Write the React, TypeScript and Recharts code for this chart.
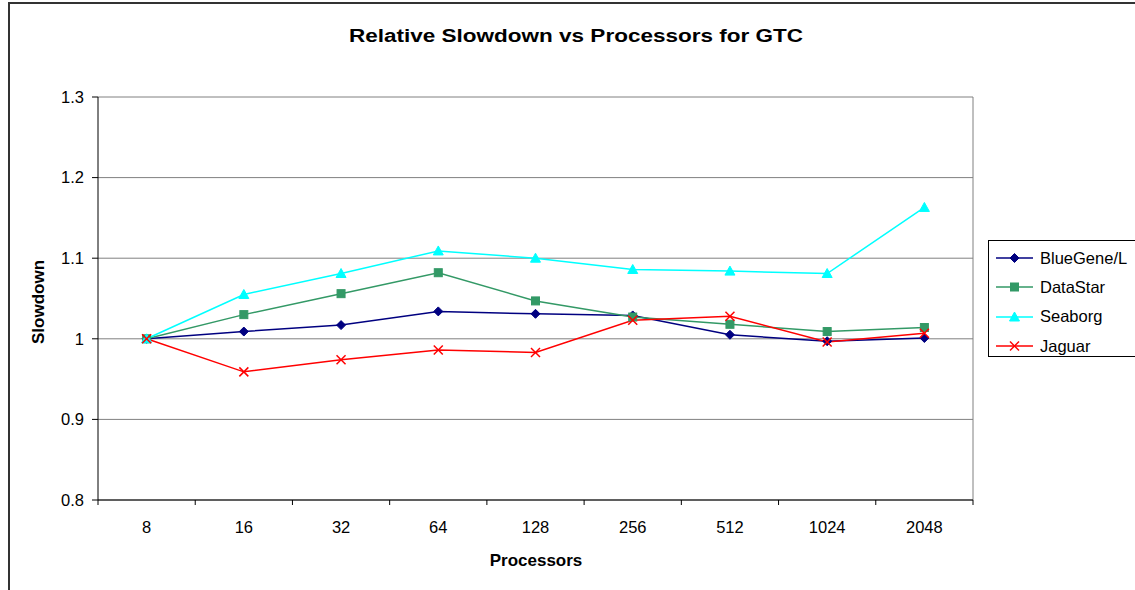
import { LineChart, Line, XAxis, YAxis, CartesianGrid } from 'recharts'

const categories = ['8', '16', '32', '64', '128', '256', '512', '1024', '2048']
const blueGene = [1.0, 1.009, 1.017, 1.034, 1.031, 1.029, 1.005, 0.997, 1.001]
const dataStar = [1.0, 1.03, 1.056, 1.082, 1.047, 1.027, 1.018, 1.009, 1.014]
const seaborg = [1.0, 1.055, 1.081, 1.109, 1.1, 1.086, 1.084, 1.081, 1.163]
const jaguar = [1.0, 0.959, 0.974, 0.986, 0.983, 1.023, 1.028, 0.996, 1.007]
const yTicks = [0.8, 0.9, 1.0, 1.1, 1.2, 1.3]

const FONT = '"Liberation Sans", Arial, sans-serif'

type Shape = 'diamond' | 'square' | 'triangle' | 'cross'

const seriesList: { key: string; name: string; color: string; shape: Shape }[] = [
  { key: 'blueGene', name: 'BlueGene/L', color: '#000080', shape: 'diamond' },
  { key: 'dataStar', name: 'DataStar', color: '#339966', shape: 'square' },
  { key: 'seaborg', name: 'Seaborg', color: '#00FFFF', shape: 'triangle' },
  { key: 'jaguar', name: 'Jaguar', color: '#FF0000', shape: 'cross' }
]

const chartData = categories.map((c, i) => ({
  name: c,
  blueGene: blueGene[i],
  dataStar: dataStar[i],
  seaborg: seaborg[i],
  jaguar: jaguar[i]
}))

function Marker({ cx, cy, shape, color }: { cx: number; cy: number; shape: Shape; color: string }) {
  if (cx == null || cy == null) return null
  if (shape === 'diamond') {
    return (
      <polygon
        points={`${cx},${cy - 4.5} ${cx + 4.5},${cy} ${cx},${cy + 4.5} ${cx - 4.5},${cy}`}
        fill={color}
        stroke={color}
      />
    )
  }
  if (shape === 'square') {
    return <rect x={cx - 4} y={cy - 4} width={8} height={8} fill={color} stroke={color} />
  }
  if (shape === 'triangle') {
    return (
      <polygon
        points={`${cx},${cy - 5} ${cx + 5},${cy + 4} ${cx - 5},${cy + 4}`}
        fill={color}
        stroke={color}
      />
    )
  }
  return (
    <g stroke={color} strokeWidth={1.5}>
      <line x1={cx - 4.5} y1={cy - 4.5} x2={cx + 4.5} y2={cy + 4.5} />
      <line x1={cx - 4.5} y1={cy + 4.5} x2={cx + 4.5} y2={cy - 4.5} />
    </g>
  )
}

const makeDot = (shape: Shape, color: string) => (props: any) => (
  <Marker key={`${shape}-${props.index}`} cx={props.cx} cy={props.cy} shape={shape} color={color} />
)

function CategoryTick(props: any) {
  const { x, y, payload, index, width, visibleTicksCount } = props
  const count = visibleTicksCount ?? categories.length
  const band = (width ?? 875) / count
  const isLast = index === count - 1
  return (
    <g>
      <line x1={x - band / 2} y1={y} x2={x - band / 2} y2={y + 5} stroke="#000" />
      {isLast && <line x1={x + band / 2} y1={y} x2={x + band / 2} y2={y + 5} stroke="#000" />}
      <text x={x} y={y + 33} textAnchor="middle" fontSize={16.5} fontFamily={FONT} fill="#000">
        {payload.value}
      </text>
    </g>
  )
}

export default function App() {
  return (
    <div
      style={{
        position: 'absolute',
        left: 0,
        top: 0,
        width: 1135,
        height: 590,
        overflow: 'hidden',
        background: '#fff',
        fontFamily: FONT
      }}
    >
      <div
        style={{
          position: 'absolute',
          left: 8,
          top: 2,
          width: 1200,
          height: 700,
          border: '2px solid #333',
          boxSizing: 'border-box'
        }}
      />
      <LineChart
        width={1135}
        height={590}
        data={chartData}
        margin={{ top: 97, right: 162, bottom: 60, left: 58 }}
        style={{ position: 'absolute', left: 0, top: 0 }}
      >
        <CartesianGrid
          stroke="#808080"
          verticalCoordinatesGenerator={({ offset }: any) => [offset.left + offset.width]}
        />
        <XAxis
          dataKey="name"
          scale="band"
          height={30}
          axisLine={{ stroke: '#000' }}
          tickLine={false}
          tickSize={0}
          tickMargin={0}
          interval={0}
          tick={<CategoryTick />}
        />
        <YAxis
          width={40}
          domain={[0.8, 1.3]}
          ticks={yTicks}
          interval={0}
          axisLine={{ stroke: '#000' }}
          tickLine={{ stroke: '#000' }}
          tickSize={6}
          tickMargin={8}
          tickFormatter={(v: number) => String(v)}
          tick={{ fontSize: 16.5, fill: '#000', fontFamily: FONT }}
        />
        {seriesList.map((s) => (
          <Line
            key={s.key}
            type="linear"
            dataKey={s.key}
            stroke={s.color}
            strokeWidth={1.5}
            dot={makeDot(s.shape, s.color)}
            activeDot={false}
            isAnimationActive={false}
          />
        ))}
      </LineChart>

      <div
        style={{
          position: 'absolute',
          left: 576,
          top: 27,
          fontSize: 18,
          lineHeight: 1,
          fontWeight: 'bold',
          whiteSpace: 'nowrap',
          transform: 'translateX(-50%) scaleX(1.25)',
          transformOrigin: 'center'
        }}
      >
        Relative Slowdown vs Processors for GTC
      </div>

      <div
        style={{
          position: 'absolute',
          left: 536,
          top: 552,
          fontSize: 17,
          lineHeight: 1,
          fontWeight: 'bold',
          whiteSpace: 'nowrap',
          transform: 'translateX(-50%)'
        }}
      >
        Processors
      </div>

      <div
        style={{
          position: 'absolute',
          left: 38,
          top: 302,
          fontSize: 17,
          lineHeight: 1,
          fontWeight: 'bold',
          whiteSpace: 'nowrap',
          transform: 'translate(-50%, -50%) rotate(-90deg)'
        }}
      >
        Slowdown
      </div>

      <div
        style={{
          position: 'absolute',
          left: 988,
          top: 240,
          width: 170,
          height: 117,
          border: '1px solid #000',
          boxSizing: 'border-box',
          background: '#fff'
        }}
      >
        {seriesList.map((s, i) => (
          <div
            key={s.key}
            style={{
              position: 'absolute',
              left: 7,
              top: 17 + i * 29.3 - 10,
              height: 20,
              display: 'flex',
              alignItems: 'center'
            }}
          >
            <svg width={38} height={20}>
              <line x1={0} y1={10} x2={37} y2={10} stroke={s.color} strokeWidth={1.5} />
              <Marker cx={18.5} cy={10} shape={s.shape} color={s.color} />
            </svg>
            <span style={{ marginLeft: 6, fontSize: 16.5, lineHeight: 1, whiteSpace: 'nowrap' }}>{s.name}</span>
          </div>
        ))}
      </div>
    </div>
  )
}
